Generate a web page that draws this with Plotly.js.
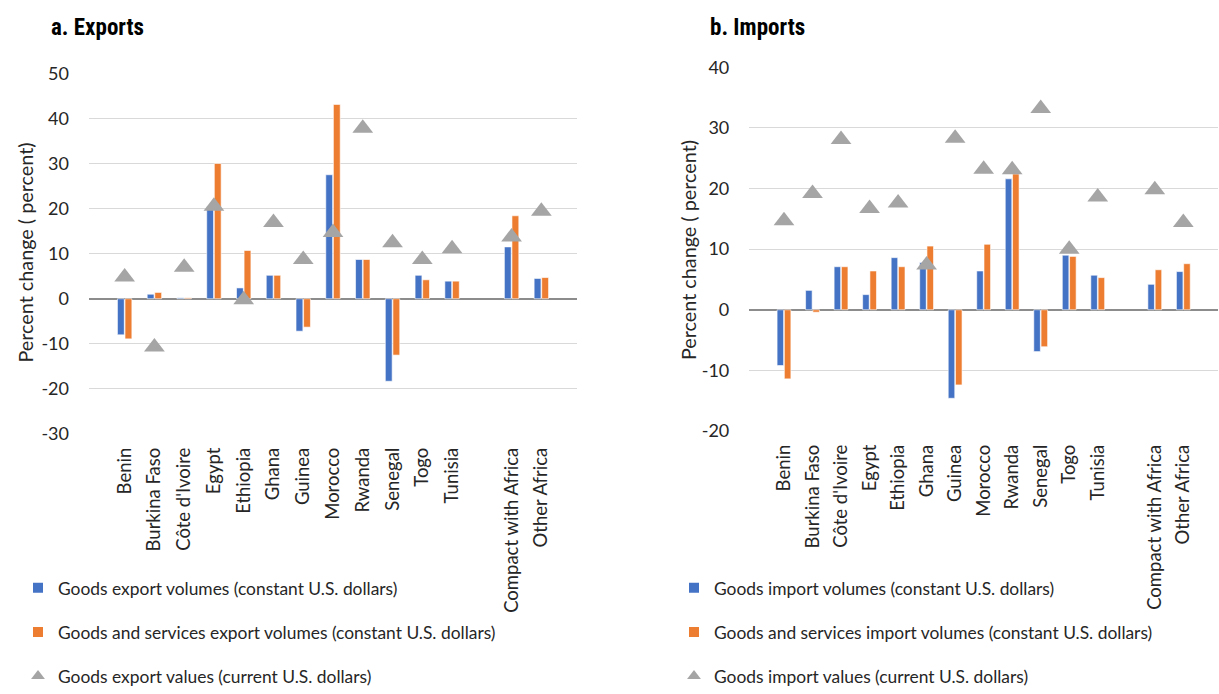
<!DOCTYPE html>
<html>
<head>
<meta charset="utf-8">
<script src="https://cdn.plot.ly/plotly-3.0.1.min.js"></script>
<style>
  html, body { margin: 0; padding: 0; background: #ffffff; }
  #chart { width: 1219px; height: 694px; }
</style>
</head>
<body>
<div id="chart"></div>
<script>
// ---- Data ----
var categories = ["Benin", "Burkina Faso", "Côte d'Ivoire", "Egypt", "Ethiopia", "Ghana", "Guinea",
                  "Morocco", "Rwanda", "Senegal", "Togo", "Tunisia", " ", "Compact with Africa", "Other Africa"];

// a. Exports (percent change)
var goodsExportVolumes   = [-8.0,  1.0, 0.2, 20.4,  2.4,  5.2, -7.2, 27.5,  8.7, -18.3, 5.2,  3.9, null, 11.5,  4.5];
var gsExportVolumes      = [-8.9,  1.4, 0.2, 30.0, 10.7,  5.2, -6.3, 43.1,  8.7, -12.5, 4.2,  3.9, null, 18.4,  4.7];
var goodsExportValues    = [ 4.8, -10.7, 7.0, 20.5, -0.2, 16.9,  8.7, 14.7, 37.8,  12.4, 8.7, 11.1, null, 13.7, 19.4];

// b. Imports (percent change)
var goodsImportVolumes   = [-9.2,  3.2, 7.1,  2.5,  8.6,  7.8, -14.6,  6.4, 21.6, -6.9, 9.0, 5.7, null, 4.2, 6.3];
var gsImportVolumes      = [-11.4, -0.4, 7.1,  6.4,  7.1, 10.5, -12.4, 10.8, 22.4, -6.1, 8.8, 5.3, null, 6.6, 7.6];
var goodsImportValues    = [14.7, 19.2, 28.1, 16.7, 17.6,  7.4,  28.3, 23.2, 23.1, 33.2, 10.0, 18.6, null, 19.8, 14.4];

// tick labels
var exportTickVals = [-30, -20, -10, 0, 10, 20, 30, 40, 50];
var exportTickText = ["-30", "-20", "-10", "0", "10", "20", "30", "40", "50"];
var importTickVals = [-20, -10, 0, 10, 20, 30, 40];
var importTickText = ["-20", "-10", "0", "10", "20", "30", "40"];

// ---- Styling ----
var BLUE = "#4472c4", ORANGE = "#ed7d31", GREY = "#a5a5a5";
var TXT = "#262626";
var FONT = "Lato, 'Open Sans', 'Noto Sans', sans-serif";
var TITLE_FONT = "'Liberation Sans Narrow', 'Roboto Condensed', 'Arial Narrow', Roboto, sans-serif";

function barTrace(y, name, color, xa, ya, lg, grp) {
  return {
    type: "bar", x: categories, y: y, name: name,
    xaxis: xa, yaxis: ya, legend: lg, legendgroup: grp,
    marker: { color: color, line: { color: "#ffffff", width: 0.6 } },
    hoverinfo: "x+y+name"
  };
}
function triTrace(y, name, xa, ya, lg, grp) {
  return {
    type: "scatter", mode: "markers", x: categories, y: y, name: name,
    xaxis: xa, yaxis: ya, legend: lg, legendgroup: grp,
    marker: { symbol: "triangle-up", size: 18, color: GREY },
    hoverinfo: "x+y+name"
  };
}

var traces = [
  barTrace(goodsExportVolumes, "Goods export volumes (constant U.S. dollars)", BLUE, "x", "y", "legend", "e1"),
  barTrace(gsExportVolumes, "Goods and services export volumes (constant U.S. dollars)", ORANGE, "x", "y", "legend", "e2"),
  triTrace(goodsExportValues, "Goods export values (current U.S. dollars)", "x", "y", "legend", "e3"),
  barTrace(goodsImportVolumes, "Goods import volumes (constant U.S. dollars)", BLUE, "x2", "y2", "legend2", "i1"),
  barTrace(gsImportVolumes, "Goods and services import volumes (constant U.S. dollars)", ORANGE, "x2", "y2", "legend2", "i2"),
  triTrace(goodsImportValues, "Goods import values (current U.S. dollars)", "x2", "y2", "legend2", "i3")
];

var W = 1219, H = 694;
function px(x) { return x / W; }
function py(y) { return 1 - y / H; }

var xCommon = {
  type: "category", showgrid: false, zeroline: false, showline: false, automargin: false,
  ticks: "", tickangle: -90, ticklabelstandoff: 9,
  tickfont: { family: FONT, size: 18.5, color: TXT }, fixedrange: true
};
var yCommon = {
  showgrid: true, gridcolor: "#d9d9d9", gridwidth: 1, automargin: false,
  zeroline: true, zerolinecolor: "#8c8c8c", zerolinewidth: 2,
  showline: false, ticks: "", ticklabelstandoff: 19,
  tickfont: { family: FONT, size: 18, color: TXT }, fixedrange: true
};

var legendCommon = {
  orientation: "v", bgcolor: "rgba(0,0,0,0)", borderwidth: 0,
  font: { family: FONT, size: 17.4, color: TXT },
  tracegroupgap: 18.5, itemsizing: "constant", yanchor: "bottom", xanchor: "left",
  traceorder: "grouped"
};

var layout = {
  width: W, height: H,
  margin: { l: 0, r: 0, t: 0, b: 0 },
  paper_bgcolor: "#ffffff", plot_bgcolor: "#ffffff",
  barmode: "group", bargap: 0.49, bargroupgap: 0.1,
  showlegend: true,
  xaxis: Object.assign({}, xCommon, { domain: [px(89), px(577)], anchor: "y" }),
  yaxis: Object.assign({}, yCommon, { domain: [py(434), py(73.3)], range: [-30, 50], anchor: "x",
                                       tickvals: exportTickVals, ticktext: exportTickText }),
  xaxis2: Object.assign({}, xCommon, { domain: [px(749.3), px(1218)], anchor: "y2" }),
  yaxis2: Object.assign({}, yCommon, { domain: [py(431), py(67.3)], range: [-20, 40], anchor: "x2",
                                        tickvals: importTickVals, ticktext: importTickText }),
  legend: Object.assign({}, legendCommon, { x: px(18), y: 0 }),
  legend2: Object.assign({}, legendCommon, { x: px(674), y: 0 }),
  annotations: [
    { text: "<b>a. Exports</b>", xref: "paper", yref: "paper", x: px(49), y: py(27),
      xanchor: "left", yanchor: "middle", showarrow: false,
      font: { family: TITLE_FONT, size: 23, color: "#000000" } },
    { text: "<b>b. Imports</b>", xref: "paper", yref: "paper", x: px(708), y: py(27),
      xanchor: "left", yanchor: "middle", showarrow: false,
      font: { family: TITLE_FONT, size: 23, color: "#000000" } },
    { text: "Percent change ( percent)", xref: "paper", yref: "paper", x: px(24.5), y: py(253),
      xanchor: "center", yanchor: "middle", textangle: -90, showarrow: false,
      font: { family: FONT, size: 19.8, color: TXT } },
    { text: "Percent change ( percent)", xref: "paper", yref: "paper", x: px(688), y: py(250),
      xanchor: "center", yanchor: "middle", textangle: -90, showarrow: false,
      font: { family: FONT, size: 19.8, color: TXT } }
  ]
};

Plotly.newPlot("chart", traces, layout, { displayModeBar: false, staticPlot: true });
</script>
</body>
</html>
